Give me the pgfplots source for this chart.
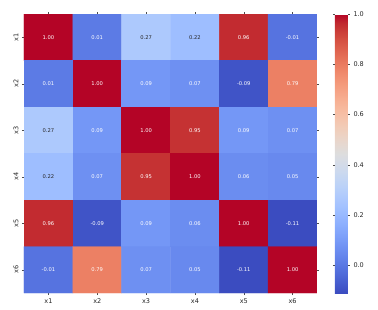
\documentclass[border=0pt]{standalone}
\usepackage{fontspec}
\setmainfont{DejaVu Sans}
\usepackage{pgfplots}
\pgfplotsset{compat=1.18}
\pgfplotstableread{
x y c
0 0 1.00
1 0 0.01
2 0 0.27
3 0 0.22
4 0 0.96
5 0 -0.01
0 1 0.01
1 1 1.00
2 1 0.09
3 1 0.07
4 1 -0.09
5 1 0.79
0 2 0.27
1 2 0.09
2 2 1.00
3 2 0.95
4 2 0.09
5 2 0.07
0 3 0.22
1 3 0.07
2 3 0.95
3 3 1.00
4 3 0.06
5 3 0.05
0 4 0.96
1 4 -0.09
2 4 0.09
3 4 0.06
4 4 1.00
5 4 -0.11
0 5 -0.01
1 5 0.79
2 5 0.07
3 5 0.05
4 5 -0.11
5 5 1.00
}\corr
\begin{document}
\begin{tikzpicture}
\path[use as bounding box] (-24pt,-16pt) rectangle (354pt,293pt);
\begin{axis}[
  at={(0,0)}, anchor=south west,
  scale only axis, width=293pt, height=279pt,
  xmin=-0.5, xmax=5.5, ymin=-0.5, ymax=5.5, y dir=reverse,
  xtick={0,...,5}, ytick={0,...,5},
  xticklabels={x1,x2,x3,x4,x5,x6},
  yticklabels={x1,x2,x3,x4,x5,x6},
  yticklabel style={rotate=90, anchor=south},
  ticklabel style={font=\fontsize{6.5}{7}\selectfont, text=black!85},
  tick align=outside, major tick length=2pt,
  tick style={black!70, line width=0.4pt},
  axis line style={draw=none},
  colormap={coolwarm}{
    rgb255=(59,76,192) rgb255=(68,90,204) rgb255=(77,104,215) rgb255=(87,117,225)
    rgb255=(98,130,234) rgb255=(108,142,241) rgb255=(119,154,247) rgb255=(130,165,251)
    rgb255=(141,176,254) rgb255=(152,185,255) rgb255=(163,194,255) rgb255=(174,201,253)
    rgb255=(184,208,249) rgb255=(194,213,244) rgb255=(204,217,238) rgb255=(213,219,230)
    rgb255=(221,221,221) rgb255=(229,216,209) rgb255=(236,211,197) rgb255=(241,204,184)
    rgb255=(245,196,172) rgb255=(247,187,160) rgb255=(247,177,148) rgb255=(246,165,136)
    rgb255=(244,154,123) rgb255=(241,141,111) rgb255=(236,127,99) rgb255=(229,112,88)
    rgb255=(222,96,77) rgb255=(213,80,66) rgb255=(203,62,56) rgb255=(192,40,47)
    rgb255=(180,4,38)},
  point meta min=-0.11, point meta max=1.0,
  colorbar,
  colorbar style={
    at={(1.0614,1)}, anchor=north west,
    width=13pt, height=279pt, y dir=normal,
    ytick={0,0.2,0.4,0.6,0.8,1.0},
    yticklabel style={/pgf/number format/fixed, /pgf/number format/fixed zerofill,
      /pgf/number format/precision=1, /pgf/number format/assume math mode=true,
      font=\fontsize{6.5}{7}\selectfont, text=black!85},
    axis line style={draw=none},
    tick align=outside, major tick length=2pt,
    tick style={black!70, line width=0.4pt},
  },
]
\addplot[matrix plot*, mesh/cols=6, point meta=explicit, shader=flat corner] table[x=x, y=y, meta=c] {\corr};
\addplot[draw=none, mark=none, nodes near coords, point meta=explicit symbolic,
  nodes near coords style={anchor=center, text=white, font=\fontsize{5.2}{6}\selectfont}]
  coordinates {
  (0,0)[1.00] (1,0)[0.01] (4,0)[0.96] (5,0)[-0.01]
  (0,1)[0.01] (1,1)[1.00] (2,1)[0.09] (3,1)[0.07] (4,1)[-0.09] (5,1)[0.79]
  (1,2)[0.09] (2,2)[1.00] (3,2)[0.95] (4,2)[0.09] (5,2)[0.07]
  (1,3)[0.07] (2,3)[0.95] (3,3)[1.00] (4,3)[0.06] (5,3)[0.05]
  (0,4)[0.96] (1,4)[-0.09] (2,4)[0.09] (3,4)[0.06] (4,4)[1.00] (5,4)[-0.11]
  (0,5)[-0.01] (1,5)[0.79] (2,5)[0.07] (3,5)[0.05] (4,5)[-0.11] (5,5)[1.00]
  };
\addplot[draw=none, mark=none, nodes near coords, point meta=explicit symbolic,
  nodes near coords style={anchor=center, text=black!85, font=\fontsize{5.2}{6}\selectfont}]
  coordinates {
  (2,0)[0.27] (3,0)[0.22] (0,2)[0.27] (0,3)[0.22]
  };
\end{axis}
\end{tikzpicture}
\end{document}
